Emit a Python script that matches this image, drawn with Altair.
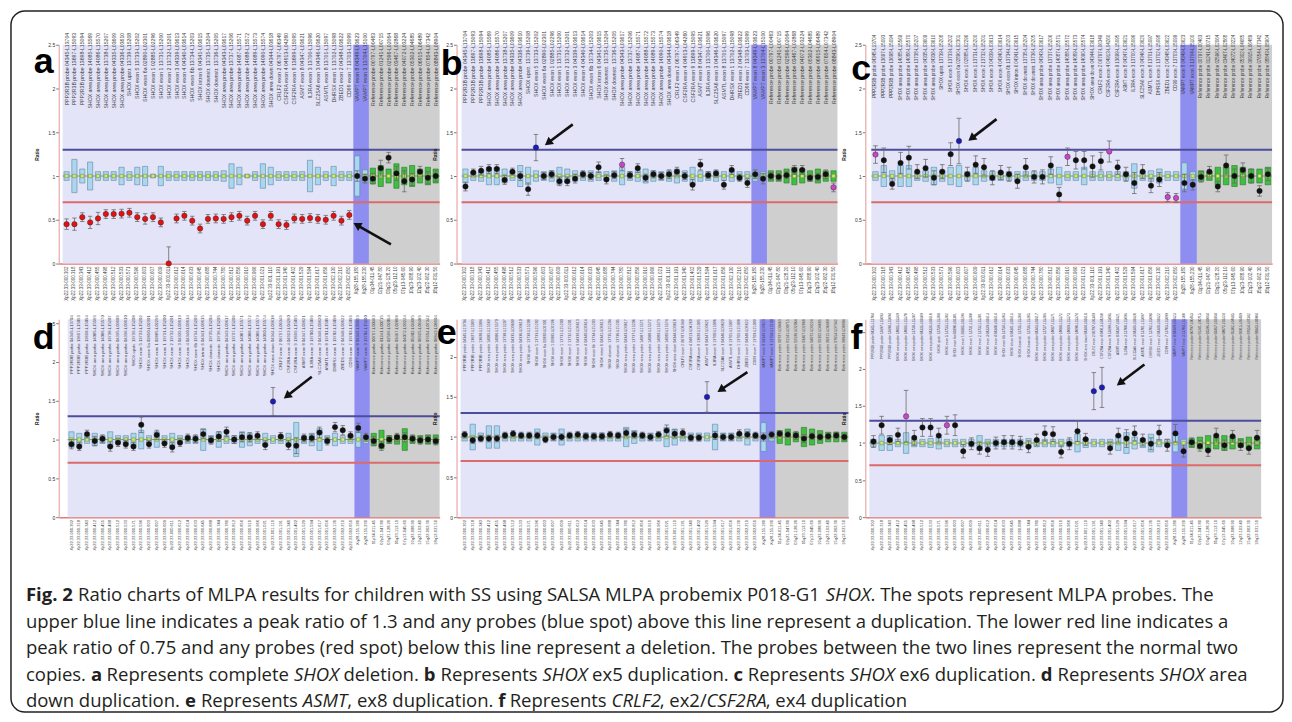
import math
import altair as alt
import pandas as pd

# ---------------------------------------------------------------- data
N_TEST, N_X, N_REF = 37, 2, 9          # test probes, PAR2 probes, reference probes

probe_names = [
    "PPP2R3B probe 04345-L13704", "PPP2R3B probe 13697-L15093", "PPP2R3B probe 13698-L15094",
    "SHOX area probe 14085-L15569", "SHOX area probe 14086-L15570", "SHOX area probe 13738-L15207",
    "SHOX area probe 04335-L03609", "SHOX area probe 04336-L03610", "SHOX upstr. 13739-L15208",
    "SHOX exon 5 13733-L15202",
    "SHOX exon 6a 02890-L02301", "SHOX exon 1 02885-L02296", "SHOX exon 1 13731-L15200",
    "SHOX exon 2 13732-L15201", "SHOX exon 3 04339-L03613", "SHOX exon 4 04340-L03614",
    "SHOX exon 6b 13734-L15203", "SHOX intron 6 04341-L03615", "SHOX downstr. 13735-L15204",
    "SHOX downstr. 13736-L15205",
    "SHOX area probe 04343-L03617", "SHOX area probe 13737-L15206", "SHOX area probe 14087-L15571",
    "SHOX area probe 14088-L15572", "SHOX area probe 14089-L15573", "SHOX area probe 14090-L15574",
    "SHOX area down 04344-L03618", "CRLF2 exon 2 06797-L06349", "CSF2RA exon 4 04913-L04260",
    "CSF2RA exon 9 13699-L15095",
    "ASMT exon 8 04347-L03621", "IL3RA exon 3 13700-L15096", "SLC25A6 exon 3 04346-L03620",
    "ASMTL exon 8 13701-L15097", "DHRSX exon 1 13702-L15098", "ZBED1 exon 2 04348-L03622",
    "CD99 exon 7 13703-L15099",
    "VAMP7 exon 8 04349-L03623", "VAMP7 exon 3 13704-L15100",
    "Reference probe 00797-L00463", "Reference probe 01241-L00715", "Reference probe 02596-L02064",
    "Reference probe 03467-L02868", "Reference probe 04072-L03224", "Reference probe 05302-L04685",
    "Reference probe 06915-L06489", "Reference probe 07654-L07342", "Reference probe 08843-L08904",
]
probe_positions = [
    "Xp22.33-000.302", "Xp22.33-000.318", "Xp22.33-000.343", "Xp22.33-000.412", "Xp22.33-000.455",
    "Xp22.33-000.498", "Xp22.33-000.512", "Xp22.33-000.533", "Xp22.33-000.571", "Xp22.33-000.596",
    "Xp22.33-000.603", "Xp22.33-000.607", "Xp22.33-000.609", "Xp22.33-000.611", "Xp22.33-000.612",
    "Xp22.33-000.614", "Xp22.33-000.633", "Xp22.33-000.645", "Xp22.33-000.688", "Xp22.33-000.744",
    "Xp22.33-000.780", "Xp22.33-000.812", "Xp22.33-000.856", "Xp22.33-000.910", "Xp22.33-000.966",
    "Xp22.33-001.021", "Xp22.33-001.110", "Xp22.33-001.191", "Xp22.33-001.340", "Xp22.33-001.402",
    "Xp22.33-001.529", "Xp22.33-001.594", "Xp22.33-001.617", "Xp22.33-001.656", "Xp22.33-002.130",
    "Xp22.33-002.210", "Xp22.33-002.650",
    "Xq28-155.180", "Xq28-155.230",
    "01p34-011.45", "02p21-047.80", "03q21-128.20", "05q23-112.10", "07p13-045.60",
    "10q23-088.90", "12q23-102.40", "15q22-062.30", "18q12-031.50",
]

ratio_a = [0.45, 0.45, 0.53, 0.47, 0.515, 0.565, 0.565, 0.57, 0.58, 0.53,
           0.51, 0.53, 0.47, 0.0, 0.515, 0.545, 0.49, 0.40, 0.51, 0.515,
           0.51, 0.53, 0.545, 0.49, 0.545, 0.45, 0.545, 0.45, 0.44, 0.515,
           0.51, 0.52, 0.51, 0.50, 0.545, 0.49, 0.555,
           1.0, 0.97,
           0.97, 1.09, 1.21, 1.03, 0.94, 0.96, 1.05, 0.98, 1.0]
err_a = [0.06, 0.07, 0.05, 0.07, 0.07, 0.05, 0.05, 0.05, 0.05, 0.05,
         0.06, 0.05, 0.05, 0.19, 0.05, 0.05, 0.05, 0.05, 0.05, 0.05,
         0.05, 0.05, 0.05, 0.05, 0.05, 0.05, 0.05, 0.05, 0.05, 0.05,
         0.05, 0.05, 0.05, 0.05, 0.05, 0.05, 0.05,
         0.06, 0.05,
         0.06, 0.09, 0.06, 0.08, 0.12, 0.07, 0.06, 0.07, 0.06]
box_a = [0.05, 0.19, 0.08, 0.16, 0.05, 0.05, 0.05, 0.10, 0.05, 0.10,
         0.11, 0.02, 0.11, 0.05, 0.05, 0.05, 0.05, 0.05, 0.05, 0.05,
         0.06, 0.14, 0.10, 0.02, 0.05, 0.14, 0.10, 0.05, 0.05, 0.05,
         0.05, 0.18, 0.10, 0.05, 0.11, 0.05, 0.05,
         0.23, 0.07,
         0.09, 0.12, 0.08, 0.14, 0.10, 0.12, 0.08, 0.10, 0.08]

ratio_b = [0.88, 1.04, 1.06, 1.08, 1.08, 0.955, 1.05, 1.0, 0.85, 1.325,
           1.0, 1.02, 0.94, 0.94, 0.97, 1.02, 1.0, 1.1, 0.96, 1.01,
           1.13, 1.01, 1.09, 0.98, 1.02, 1.0, 1.02, 1.05, 1.0, 0.9,
           1.13, 1.01, 1.03, 0.9, 1.07, 0.98, 0.92,
           1.02, 0.97,
           1.0, 0.99, 1.01, 1.07, 1.07, 0.98, 0.99, 1.02, 0.87]
err_b = [0.05, 0.04, 0.05, 0.05, 0.05, 0.05, 0.04, 0.05, 0.07, 0.15,
         0.04, 0.04, 0.05, 0.05, 0.05, 0.04, 0.04, 0.06, 0.05, 0.04,
         0.07, 0.04, 0.05, 0.04, 0.04, 0.04, 0.05, 0.05, 0.04, 0.06,
         0.06, 0.04, 0.04, 0.05, 0.05, 0.04, 0.05,
         0.05, 0.06,
         0.04, 0.04, 0.04, 0.05, 0.05, 0.04, 0.04, 0.05, 0.05]
box_b = [0.08, 0.05, 0.06, 0.10, 0.10, 0.08, 0.05, 0.12, 0.10, 0.06,
         0.05, 0.06, 0.10, 0.08, 0.06, 0.05, 0.06, 0.05, 0.05, 0.06,
         0.10, 0.05, 0.06, 0.08, 0.06, 0.05, 0.06, 0.08, 0.06, 0.10,
         0.06, 0.05, 0.06, 0.05, 0.06, 0.05, 0.05,
         0.06, 0.05,
         0.06, 0.06, 0.08, 0.10, 0.08, 0.06, 0.08, 0.06, 0.06]

ratio_c = [1.245, 1.18, 0.91, 1.15, 1.21, 1.05, 1.09, 0.98, 1.05, 1.25,
           1.40, 1.02, 1.13, 1.10, 0.98, 1.04, 1.02, 0.94, 1.10, 0.99,
           0.99, 1.12, 0.79, 1.22, 1.18, 1.18, 1.11, 1.17, 1.28, 1.10,
           1.02, 0.92, 1.05, 0.89, 0.96, 0.76, 0.75,
           0.92, 0.90,
           0.99, 1.05, 0.88, 1.12, 1.0, 1.07, 1.0, 0.83, 1.02]
err_c = [0.10, 0.14, 0.06, 0.12, 0.13, 0.08, 0.10, 0.08, 0.08, 0.13,
         0.26, 0.08, 0.10, 0.10, 0.08, 0.08, 0.08, 0.08, 0.10, 0.07,
         0.08, 0.10, 0.08, 0.10, 0.10, 0.10, 0.12, 0.10, 0.12, 0.08,
         0.08, 0.12, 0.08, 0.08, 0.08, 0.05, 0.05,
         0.10, 0.06,
         0.06, 0.06, 0.06, 0.12, 0.08, 0.08, 0.08, 0.06, 0.07]
box_c = [0.05, 0.12, 0.06, 0.12, 0.12, 0.05, 0.06, 0.10, 0.06, 0.10,
         0.12, 0.05, 0.10, 0.06, 0.05, 0.05, 0.05, 0.05, 0.05, 0.05,
         0.05, 0.08, 0.10, 0.05, 0.05, 0.10, 0.05, 0.05, 0.05, 0.05,
         0.05, 0.14, 0.05, 0.06, 0.08, 0.05, 0.05,
         0.15, 0.05,
         0.06, 0.05, 0.10, 0.10, 0.12, 0.10, 0.08, 0.08, 0.10]

ratio_d = [0.94, 0.91, 1.07, 0.98, 1.01, 0.91, 0.96, 0.94, 0.91, 1.19,
           0.94, 1.06, 0.95, 0.90, 0.96, 1.02, 1.01, 1.07, 0.99, 1.04,
           1.10, 1.00, 1.03, 1.03, 1.05, 0.93, 1.49, 1.04, 0.93, 0.92,
           1.02, 1.02, 1.09, 0.98, 1.16, 1.12, 1.05,
           1.15, 1.03,
           0.98, 0.92, 1.00, 1.03, 1.03, 1.01, 0.99, 1.00, 0.98]
err_d = [0.06, 0.05, 0.05, 0.06, 0.05, 0.06, 0.05, 0.05, 0.05, 0.10,
         0.05, 0.06, 0.05, 0.06, 0.05, 0.05, 0.05, 0.06, 0.05, 0.06,
         0.06, 0.05, 0.06, 0.06, 0.05, 0.06, 0.18, 0.05, 0.06, 0.10,
         0.05, 0.05, 0.07, 0.05, 0.06, 0.06, 0.05,
         0.06, 0.05,
         0.06, 0.06, 0.05, 0.05, 0.06, 0.05, 0.05, 0.05, 0.05]
box_d = [0.10, 0.08, 0.05, 0.08, 0.05, 0.10, 0.05, 0.05, 0.08, 0.12,
         0.05, 0.10, 0.05, 0.08, 0.05, 0.05, 0.05, 0.14, 0.05, 0.10,
         0.05, 0.05, 0.10, 0.08, 0.05, 0.08, 0.05, 0.05, 0.08, 0.22,
         0.05, 0.08, 0.14, 0.05, 0.08, 0.05, 0.05,
         0.10, 0.05,
         0.08, 0.12, 0.05, 0.06, 0.14, 0.05, 0.05, 0.06, 0.06]

ratio_e = [1.03, 0.96, 0.98, 0.98, 0.98, 1.02, 1.04, 1.02, 1.02, 1.02,
           0.97, 1.00, 1.00, 1.02, 1.03, 1.01, 1.01, 1.01, 1.03, 1.02,
           1.05, 1.03, 1.02, 1.00, 1.03, 1.08, 1.04, 1.05, 0.99, 0.99,
           1.50, 1.02, 1.00, 1.00, 1.04, 1.03, 1.02,
           1.00, 1.03,
           1.04, 1.03, 1.02, 0.98, 1.01, 1.00, 1.01, 1.02, 1.00]
err_e = [0.04, 0.04, 0.04, 0.04, 0.04, 0.04, 0.04, 0.04, 0.04, 0.04,
         0.04, 0.04, 0.04, 0.04, 0.04, 0.04, 0.04, 0.04, 0.04, 0.04,
         0.05, 0.04, 0.04, 0.04, 0.04, 0.07, 0.05, 0.05, 0.04, 0.04,
         0.19, 0.05, 0.04, 0.04, 0.05, 0.04, 0.04,
         0.05, 0.04,
         0.04, 0.04, 0.05, 0.05, 0.04, 0.04, 0.04, 0.04, 0.04]
box_e = [0.05, 0.16, 0.05, 0.14, 0.14, 0.05, 0.05, 0.05, 0.05, 0.10,
         0.05, 0.05, 0.10, 0.05, 0.05, 0.05, 0.05, 0.05, 0.05, 0.05,
         0.12, 0.08, 0.05, 0.05, 0.05, 0.12, 0.10, 0.05, 0.05, 0.05,
         0.05, 0.16, 0.05, 0.05, 0.05, 0.10, 0.05,
         0.18, 0.05,
         0.08, 0.10, 0.06, 0.12, 0.10, 0.08, 0.06, 0.06, 0.06]

ratio_f = [1.02, 1.24, 1.04, 1.11, 1.36, 1.07, 1.21, 1.21, 1.10, 1.24,
           1.24, 0.89, 0.99, 0.93, 0.91, 1.00, 1.01, 1.01, 1.00, 0.95,
           1.04, 1.13, 1.12, 0.88, 0.99, 1.16, 1.05, 1.70, 1.75, 0.93,
           1.10, 1.06, 1.13, 1.04, 0.99, 1.14, 0.97,
           1.13, 0.89,
           1.01, 0.96, 0.90, 1.10, 0.97, 1.09, 0.97, 0.93, 1.07]
err_f = [0.08, 0.12, 0.06, 0.09, 0.35, 0.10, 0.12, 0.12, 0.10, 0.12,
         0.14, 0.09, 0.08, 0.08, 0.09, 0.08, 0.09, 0.09, 0.09, 0.08,
         0.08, 0.10, 0.10, 0.08, 0.08, 0.14, 0.08, 0.25, 0.27, 0.08,
         0.10, 0.12, 0.10, 0.08, 0.08, 0.10, 0.08,
         0.12, 0.08,
         0.06, 0.07, 0.08, 0.10, 0.07, 0.08, 0.07, 0.08, 0.10]
box_f = [0.05, 0.10, 0.10, 0.05, 0.14, 0.05, 0.05, 0.06, 0.08, 0.05,
         0.05, 0.05, 0.05, 0.10, 0.05, 0.05, 0.05, 0.05, 0.05, 0.06,
         0.05, 0.05, 0.05, 0.05, 0.05, 0.12, 0.06, 0.05, 0.05, 0.05,
         0.10, 0.14, 0.08, 0.06, 0.12, 0.05, 0.05,
         0.12, 0.05,
         0.06, 0.08, 0.10, 0.08, 0.10, 0.08, 0.06, 0.08, 0.08]

# probes flagged (magenta spots) in each run
magenta_probes = {"a": [], "b": [20, 47], "c": [0, 23, 28, 35, 36], "d": [], "e": [], "f": [4, 9]}

UPPER_RATIO, LOWER_RATIO = 1.3, 0.7
y_ticks = [0, 0.5, 1, 1.5, 2, 2.5]

# arrow annotations: (tail probe, tail ratio, head probe, head ratio)
arrows = {
    "a": (41.3, 0.22, 36.97, 0.44),
    "b": (13.7, 1.59, 10.55, 1.38),
    "c": (14.5, 1.65, 11.5, 1.43),
    "d": (31.0, 1.81, 27.8, 1.56),
    "e": (35.0, 1.81, 31.7, 1.59),
    "f": (33.2, 2.06, 30.2, 1.81),
}

caption_lines = [
    [("Fig. 2", "b"), (" Ratio charts of MLPA results for children with SS using SALSA MLPA probemix P018-G1 ", "r"),
     ("SHOX", "i"), (". The spots represent MLPA probes. The", "r")],
    [("upper blue line indicates a peak ratio of 1.3 and any probes (blue spot) above this line represent a duplication. The lower red line indicates a", "r")],
    [("peak ratio of 0.75 and any probes (red spot) below this line represent a deletion. The probes between the two lines represent the normal two", "r")],
    [("copies. ", "r"), ("a", "b"), (" Represents complete ", "r"), ("SHOX", "i"), (" deletion. ", "r"),
     ("b", "b"), (" Represents ", "r"), ("SHOX", "i"), (" ex5 duplication. ", "r"),
     ("c", "b"), (" Represents ", "r"), ("SHOX", "i"), (" ex6 duplication. ", "r"),
     ("d", "b"), (" Represents ", "r"), ("SHOX", "i"), (" area", "r")],
    [("down duplication. ", "r"), ("e", "b"), (" Represents ", "r"), ("ASMT", "i"), (", ex8 duplication. ", "r"),
     ("f", "b"), (" Represents ", "r"), ("CRLF2", "i"), (", ex2/", "r"), ("CSF2RA", "i"), (", ex4 duplication", "r")],
]

RATIOS = {"a": ratio_a, "b": ratio_b, "c": ratio_c, "d": ratio_d, "e": ratio_e, "f": ratio_f}
ERRS = {"a": err_a, "b": err_b, "c": err_c, "d": err_d, "e": err_e, "f": err_f}
BOXES = {"a": box_a, "b": box_b, "c": box_c, "d": box_d, "e": box_e, "f": box_f}

# ---------------------------------------------------------------- layout / style
# top: pixel offset of the top of the probe-name labels from the panel top
LAYOUT = {
    "a": dict(w=383, h=220, ymax=2.5, xmin=-1.0, top=-12, tfs=5.2, bfs=4.5, lx=-15, ly=28),
    "b": dict(w=383, h=220, ymax=2.5, xmin=-1.14, top=-14, tfs=5.2, bfs=4.5, lx=-5, ly=30),
    "c": dict(w=409, h=220, ymax=2.5, xmin=-1.22, top=-10, tfs=4.5, bfs=4.5, lx=-4, ly=35),
    "d": dict(w=383, h=199, ymax=2.55, xmin=-1.65, top=-4, tfs=4.2, bfs=4.0, lx=-15, ly=30),
    "e": dict(w=394, h=199, ymax=2.47, xmin=-1.0, top=0, tfs=3.7, bfs=4.0, lx=-10, ly=25),
    "f": dict(w=398, h=199, ymax=2.67, xmin=-1.0, top=-6, tfs=3.3, bfs=4.0, lx=-9, ly=30),
}
X_MAX = 47.5

LAVENDER = "#e4e4f9"
BAND_BLUE = "#8e8ef0"
GRAY = "#cfcfcf"
UPPER_COL = "#4d4d9e"
LOWER_COL = "#dc6a6a"
BOX_FILL, BOX_STROKE = "#aad6ee", "#5d87a6"
GREEN_FILL, GREEN_STROKE = "#3fbf3f", "#2a7a2a"
DOT_COL = {"black": "#111111", "red": "#e21212", "blue": "#1c1cb8", "magenta": "#c846c8"}
SMALL_FONT = "Liberation Sans"
LABEL_COL = "#3c3c3c"

# ---------------------------------------------------------------- caption layout (pixels, relative to panel d)
OS_W = {' ': 532, '!': 547, '(': 606, ')': 606, ',': 498, '-': 659, '.': 545, '/': 752,
        ':': 545, ';': 545,
        'A': 1296, 'B': 1327, 'C': 1292, 'D': 1493, 'E': 1139, 'F': 1057, 'G': 1491, 'H': 1511,
        'I': 571, 'J': 547, 'K': 1257, 'L': 1063, 'M': 1849, 'N': 1544, 'O': 1595, 'P': 1233,
        'Q': 1595, 'R': 1266, 'S': 1124, 'T': 1143, 'U': 1491, 'V': 1241, 'W': 1905, 'X': 1208,
        'Y': 1155, 'Z': 1165,
        'a': 1139, 'b': 1255, 'c': 975, 'd': 1255, 'e': 1149, 'f': 694, 'g': 1122, 'h': 1257,
        'i': 518, 'j': 518, 'k': 1075, 'l': 518, 'm': 1905, 'n': 1257, 'o': 1237, 'p': 1255,
        'q': 1255, 'r': 836, 's': 977, 't': 723, 'u': 1257, 'v': 1026, 'w': 1593, 'x': 1073,
        'y': 1028, 'z': 977}
for _d in "0123456789":
    OS_W[_d] = 1171
STYLE_FACTOR = {"r": 1.0, "b": 1.06, "i": 0.91}


def seg_width(t, s, fs):
    return sum(OS_W.get(ch, 1100) for ch in t) / 2048.0 * fs * STYLE_FACTOR[s]


CAP_X0 = -33                 # page x 25, panel d starts at page x 58
CAP_LINE1_END = 1162
CAP_BASE = [283.5, 310.2, 336.8, 363.4, 390.0]   # baselines below the top of panel d
CAP_FS = (CAP_LINE1_END - CAP_X0) / sum(seg_width(t, s, 1.0) for t, s in caption_lines[0])


def caption_frame():
    rows = []
    for li, line in enumerate(caption_lines):
        x = CAP_X0
        for t, s in line:
            lead = len(t) - len(t.lstrip(" "))
            stripped = t.strip(" ")
            if stripped:
                rows.append({"px": x + seg_width(" " * lead, "r", CAP_FS), "py": CAP_BASE[li],
                             "t": stripped, "s": s})
            x += seg_width(t, s, CAP_FS)
    return pd.DataFrame(rows)


def build_panel(key, with_caption=False):
    cfg = LAYOUT[key]
    ratio, err, box = RATIOS[key], ERRS[key], BOXES[key]
    n = N_TEST + N_X + N_REF
    groups = ["test"] * N_TEST + ["x"] * N_X + ["ref"] * N_REF

    xs = alt.Scale(domain=[cfg["xmin"], X_MAX], nice=False, zero=False)
    ys = alt.Scale(domain=[0, cfg["ymax"]], nice=False, zero=False)
    xaxis = alt.Axis(labels=False, ticks=False, grid=False, title=None,
                     domainColor="#e07a7a", domainWidth=1.5)
    yaxis = alt.Axis(values=[v for v in y_ticks if v <= cfg["ymax"] + 1e-9], format="~g",
                     labelFontSize=5, labelColor="#333", labelFont=SMALL_FONT, labelPadding=1,
                     tickSize=3, tickColor="#777", domainColor="#e8a8a8", domainWidth=1.2,
                     grid=False, title="Ratio", titleFontSize=5, titleFont=SMALL_FONT,
                     titleColor="#222", titlePadding=8)
    sx = cfg["w"] / (X_MAX - cfg["xmin"])
    sy = cfg["h"] / cfg["ymax"]

    def X(f):
        return alt.X(f, scale=xs, axis=xaxis)

    def Y(f):
        return alt.Y(f, scale=ys, axis=yaxis)

    reg = pd.DataFrame({
        "x0": [-0.5, N_TEST - 0.5, N_TEST + N_X - 0.5],
        "x1": [N_TEST - 0.5, N_TEST + N_X - 0.5, n - 0.5],
        "y0": [0.0] * 3, "y1": [cfg["ymax"]] * 3,
        "c": [LAVENDER, BAND_BLUE, GRAY],
    })

    def dot_color(i, r):
        if i in magenta_probes[key]:
            return DOT_COL["magenta"]
        if r > UPPER_RATIO:
            return DOT_COL["blue"]
        if r < LOWER_RATIO:
            return DOT_COL["red"]
        return DOT_COL["black"]

    df = pd.DataFrame({
        "i": list(range(n)),
        "ratio": ratio,
        "lo": [max(0.0, r - e) for r, e in zip(ratio, err)],
        "hi": [r + e for r, e in zip(ratio, err)],
        "blo": [1 - b for b in box],
        "bhi": [1 + b for b in box],
        "name": probe_names,
        "pos": probe_positions,
        "grp": groups,
    })
    df["c0"] = df["i"] - 0.28
    df["c1"] = df["i"] + 0.28
    df["bx0"] = df["i"] - 0.33
    df["bx1"] = df["i"] + 0.33
    df["one"] = 1.0
    df["bf"] = [GREEN_FILL if g == "ref" else BOX_FILL for g in groups]
    df["bs"] = [GREEN_STROKE if g == "ref" else BOX_STROKE for g in groups]
    df["dc"] = [dot_color(i, r) for i, r in enumerate(ratio)]

    thr = pd.DataFrame({"x0": [-0.5, -0.5], "x1": [n - 0.5, n - 0.5],
                        "y": [UPPER_RATIO, LOWER_RATIO], "c": [UPPER_COL, LOWER_COL]})
    med = pd.DataFrame({"x0": [-0.5], "x1": [n - 0.5], "y": [1.0]})

    tx, ty, hx, hy = arrows[key]
    arr = pd.DataFrame({"tx": [tx], "ty": [ty], "hx": [hx], "hy": [hy]})
    dxp = (hx - tx) * sx
    dyp = -(hy - ty) * sy
    ang = math.degrees(math.atan2(dxp, -dyp)) % 360

    layers = [
        alt.Chart(reg).mark_rect().encode(
            x=X("x0:Q"), x2="x1:Q", y=Y("y0:Q"), y2="y1:Q", color=alt.Color("c:N", scale=None)),
        alt.Chart(df).mark_text(angle=270, align="right", baseline="middle", fontSize=cfg["tfs"],
                                color=LABEL_COL, font=SMALL_FONT).encode(
            x=X("i:Q"), y=alt.value(cfg["top"]), text="name:N"),
        alt.Chart(df).mark_text(angle=270, align="right", baseline="middle", fontSize=cfg["bfs"],
                                color=LABEL_COL, font=SMALL_FONT).encode(
            x=X("i:Q"), y=alt.value(cfg["h"] + 3), text="pos:N"),
        alt.Chart(thr).mark_rule(strokeWidth=2).encode(
            x=X("x0:Q"), x2="x1:Q", y=Y("y:Q"), color=alt.Color("c:N", scale=None)),
        alt.Chart(med).mark_rule(strokeWidth=1, color="#8e9a3e").encode(
            x=X("x0:Q"), x2="x1:Q", y=Y("y:Q")),
        alt.Chart(df).mark_rect(strokeWidth=0.6).encode(
            x=X("bx0:Q"), x2="bx1:Q", y=Y("blo:Q"), y2="bhi:Q",
            fill=alt.Fill("bf:N", scale=None), stroke=alt.Stroke("bs:N", scale=None)),
        alt.Chart(df).mark_square(size=12, color="#d8e86c", stroke="#5c8c3c", strokeWidth=0.5,
                                  opacity=1).encode(x=X("i:Q"), y=Y("one:Q")),
        alt.Chart(df).mark_rule(color="#6a6a6a", strokeWidth=0.8).encode(
            x=X("i:Q"), y=Y("lo:Q"), y2="hi:Q"),
        alt.Chart(df).mark_rule(color="#6a6a6a", strokeWidth=0.8).encode(
            x=X("c0:Q"), x2="c1:Q", y=Y("hi:Q")),
        alt.Chart(df).mark_rule(color="#6a6a6a", strokeWidth=0.8).encode(
            x=X("c0:Q"), x2="c1:Q", y=Y("lo:Q")),
        alt.Chart(df).mark_circle(size=30, opacity=1, stroke="#222", strokeWidth=0.4).encode(
            x=X("i:Q"), y=Y("ratio:Q"), color=alt.Color("dc:N", scale=None)),
        alt.Chart(arr).mark_rule(strokeWidth=2.6, color="#111").encode(
            x=X("tx:Q"), y=Y("ty:Q"), x2="hx:Q", y2="hy:Q"),
        alt.Chart(arr).mark_point(shape="triangle-up", filled=True, size=85, color="#111",
                                  opacity=1, angle=ang).encode(x=X("hx:Q"), y=Y("hy:Q")),
        alt.Chart(pd.DataFrame({"k": [key]})).mark_text(
            fontSize=36, fontWeight="bold", font="Liberation Sans", align="center",
            baseline="alphabetic", color="#000").encode(
            x=alt.value(cfg["lx"]), y=alt.value(cfg["ly"]), text="k:N"),
    ]

    if with_caption:
        cap = caption_frame()
        cap["cx"] = cfg["xmin"] + cap["px"] / sx
        cap["cy"] = cfg["ymax"] - cap["py"] / sy

        def cap_layer(style, **kw):
            return alt.Chart(cap).transform_filter(alt.datum.s == style).mark_text(
                align="left", baseline="alphabetic", font="Open Sans", fontSize=CAP_FS,
                color="#231f20", **kw).encode(x=X("cx:Q"), y=Y("cy:Q"), text="t:N")

        layers += [
            alt.Chart(pd.DataFrame({"k": [0]})).mark_rect(
                cornerRadius=14, fillOpacity=0, stroke="#222", strokeWidth=1.5).encode(
                x=alt.value(-48), x2=alt.value(1231), y=alt.value(-310), y2=alt.value(395)),
            cap_layer("r"),
            cap_layer("b", fontWeight="bold"),
            cap_layer("i", fontStyle="italic"),
        ]
    return alt.layer(*layers).properties(width=cfg["w"], height=cfg["h"])


# ---------------------------------------------------------------- assemble
chart = alt.concat(
    build_panel("a"), build_panel("b"), build_panel("c"),
    build_panel("d", with_caption=True), build_panel("e"), build_panel("f"),
    columns=3, spacing=alt.RowColnumber(row=56, column=17), bounds="flush", align="none",
).properties(
    padding={"left": 2, "top": 0, "right": 0, "bottom": 0},
    background="white",
).configure_view(stroke=None)

chart.save("out.html", embed_options={"renderer": "svg", "actions": False})
